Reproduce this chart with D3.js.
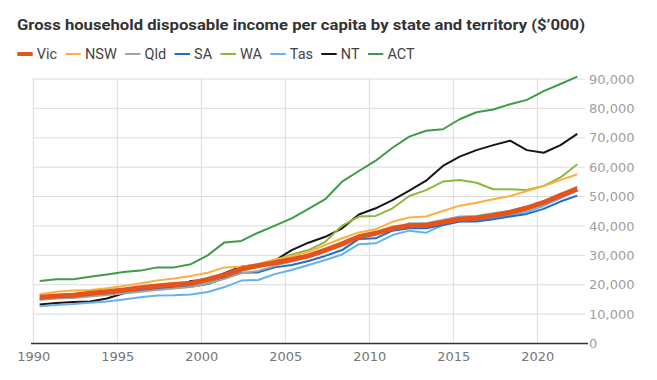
<!DOCTYPE html>
<html>
<head>
<meta charset="utf-8">
<script src="https://cdn.jsdelivr.net/npm/d3@7"></script>
<style>
  html, body { margin: 0; padding: 0; background: #fff; }
  svg { display: block; }
</style>
</head>
<body>
<svg id="chart" width="657" height="380"></svg>
<script>
const titleText = "Gross household disposable income per capita by state and territory ($\u2019000)";
const years = [1990,1991,1992,1993,1994,1995,1996,1997,1998,1999,2000,2001,2002,2003,2004,2005,2006,2007,2008,2009,2010,2011,2012,2013,2014,2015,2016,2017,2018,2019,2020,2021,2022];
const xTicks = [1990,1995,2000,2005,2010,2015,2020];
const yTicks = [0,10000,20000,30000,40000,50000,60000,70000,80000,90000];
const seriesNames = ["Vic","NSW","Qld","SA","WA","Tas","NT","ACT"];

// values in $'000
const vic = [15.7,16.2,16.4,17.1,17.6,18.2,19.0,19.6,20.1,20.5,21.8,23.3,25.3,26.5,27.5,28.6,29.8,31.8,33.9,36.3,37.5,39.2,40.1,40.2,41.3,42.3,42.7,43.6,44.6,46.1,48.0,50.4,52.6];
const nsw = [16.8,17.6,18.0,18.2,18.8,19.6,20.5,21.4,22.1,23.0,24.1,25.9,26.1,27.0,28.6,29.8,31.2,33.5,35.8,37.8,38.9,41.4,42.9,43.2,45.1,46.9,47.9,49.1,50.2,51.9,53.6,55.6,57.6];
const qld = [14.9,15.3,15.5,16.0,16.5,17.0,17.6,18.2,18.7,19.2,20.4,22.0,23.9,24.7,26.4,28.0,29.4,31.4,33.7,36.0,37.3,38.9,40.9,40.9,42.0,43.2,43.4,44.3,45.2,46.6,48.3,50.5,53.4];
const sa  = [15.0,15.5,15.7,16.3,16.8,17.4,18.2,18.7,19.0,19.3,20.2,22.2,24.1,24.2,25.9,26.7,28.1,29.8,31.8,35.6,35.8,38.4,39.2,39.2,40.3,41.5,41.5,42.3,43.2,44.1,45.8,48.3,50.3];
const wa  = [15.3,15.6,15.8,16.4,16.9,17.4,18.1,18.6,19.1,19.6,20.8,22.6,24.8,26.0,28.2,30.3,31.8,34.6,40.1,43.2,43.4,46.0,50.2,52.2,55.1,55.6,54.7,52.5,52.5,52.2,53.6,56.5,61.0];
const tas = [12.7,13.1,13.4,13.9,14.3,15.0,15.7,16.3,16.4,16.7,17.5,19.2,21.4,21.6,23.6,25.0,26.7,28.4,30.3,33.8,34.1,36.9,38.4,37.7,40.3,41.5,42.0,42.9,43.7,44.8,46.8,49.4,52.0];
const nt  = [13.3,13.8,14.1,14.3,15.3,17.1,18.0,18.7,18.9,21.3,21.6,23.9,26.1,26.9,28.2,31.8,34.3,36.3,39.2,43.9,46.0,48.8,52.0,55.4,60.4,63.6,65.8,67.5,69.0,65.8,64.9,67.5,71.3];
const act = [21.3,21.9,21.9,22.7,23.5,24.3,24.8,25.9,25.9,27.0,30.0,34.4,34.9,37.7,40.1,42.6,45.8,49.1,55.1,58.7,62.2,66.6,70.4,72.4,72.9,76.3,78.7,79.6,81.4,82.9,85.9,88.3,90.8];

const seriesValues = {Vic: vic, NSW: nsw, Qld: qld, SA: sa, WA: wa, Tas: tas, NT: nt, ACT: act};
const colors = {Vic:"#e5531c", NSW:"#fbb040", Qld:"#a3a3a3", SA:"#1c6ec6", WA:"#8db83d", Tas:"#67b2ea", NT:"#151515", ACT:"#3f9a4a"};
const widths = {Vic:5, NSW:2, Qld:2, SA:2, WA:2, Tas:2, NT:2, ACT:2};
const pointOffset = 0.38; // points placed part-way through each year

const svg = d3.select("#chart");
svg.append("rect").attr("width",657).attr("height",380).attr("fill","#fff");

const x = d3.scaleLinear().domain([1990, 2023]).range([33.3, 587.7]);
const y = d3.scaleLinear().domain([0, 90000]).range([343.5, 79]);

// Title
const title = svg.append("text")
  .attr("x", 17).attr("y", 29.5)
  .attr("font-family", "Roboto, 'Noto Sans', sans-serif")
  .attr("font-weight", "bold")
  .attr("font-size", 15.5)
  .attr("fill", "#333")
  .text(titleText);
title.attr("textLength", 568).attr("lengthAdjust", "spacingAndGlyphs");

// Legend
let lx = 17.3;
const legend = svg.append("g");
seriesNames.forEach(name => {
  legend.append("line")
    .attr("x1", lx).attr("x2", lx + 15.4)
    .attr("y1", 54).attr("y2", 54)
    .attr("stroke", colors[name])
    .attr("stroke-width", name === "Vic" ? 4 : 2);
  const t = legend.append("text")
    .attr("x", lx + 19.5).attr("y", 54)
    .attr("dy", "0.36em")
    .attr("font-family", "Roboto, sans-serif")
    .attr("font-size", 14.5)
    .attr("fill", "#444")
    .text(name);
  const w = t.node().getComputedTextLength();
  lx = lx + 19.5 + w + 8.3;
});

// Gridlines
const grid = svg.append("g");
grid.selectAll("line.v").data(xTicks).enter().append("line")
  .attr("x1", d => x(d)).attr("x2", d => x(d))
  .attr("y1", y(90000) - 1).attr("y2", y(0))
  .attr("stroke", "#dcdcdc").attr("stroke-width", 1);
grid.selectAll("line.h").data(yTicks.filter(d => d > 0)).enter().append("line")
  .attr("x1", x(1990) - 0.5).attr("x2", 585)
  .attr("y1", d => y(d)).attr("y2", d => y(d))
  .attr("stroke", "#dcdcdc").attr("stroke-width", 1);

// Y axis labels (right)
const yAxis = d3.axisRight(y).tickValues(yTicks).tickFormat(d3.format(",")).tickSize(0).tickPadding(0);
const yg = svg.append("g").attr("transform", `translate(589,0)`).call(yAxis);
yg.select(".domain").remove();
yg.selectAll("text").attr("font-family", "'DejaVu Sans', sans-serif").attr("font-size", 13).attr("fill", "#a0a0a0");

// X axis labels
const xAxis = d3.axisBottom(x).tickValues(xTicks).tickFormat(d3.format("d")).tickSize(0).tickPadding(8);
const xg = svg.append("g").attr("transform", `translate(0,${y(0)})`).call(xAxis);
xg.select(".domain").remove();
xg.selectAll("text").attr("font-family", "'DejaVu Sans', sans-serif").attr("font-size", 13).attr("fill", "#777");

// Lines
const line = d3.line()
  .x((d, i) => x(years[i] + pointOffset))
  .y(d => y(d * 1000));
const drawOrder = ["ACT","NT","WA","NSW","Tas","SA","Qld","Vic"];
const lg = svg.append("g");
drawOrder.forEach(name => {
  lg.append("path")
    .datum(seriesValues[name])
    .attr("d", line)
    .attr("fill", "none")
    .attr("stroke", colors[name])
    .attr("stroke-width", widths[name])
    .attr("stroke-linejoin", "round")
    .attr("stroke-linecap", "butt");
});

// Zero baseline
svg.append("line")
  .attr("x1", 31).attr("x2", 588)
  .attr("y1", y(0)).attr("y2", y(0))
  .attr("stroke", "#333").attr("stroke-width", 1.5);
</script>
</body>
</html>
